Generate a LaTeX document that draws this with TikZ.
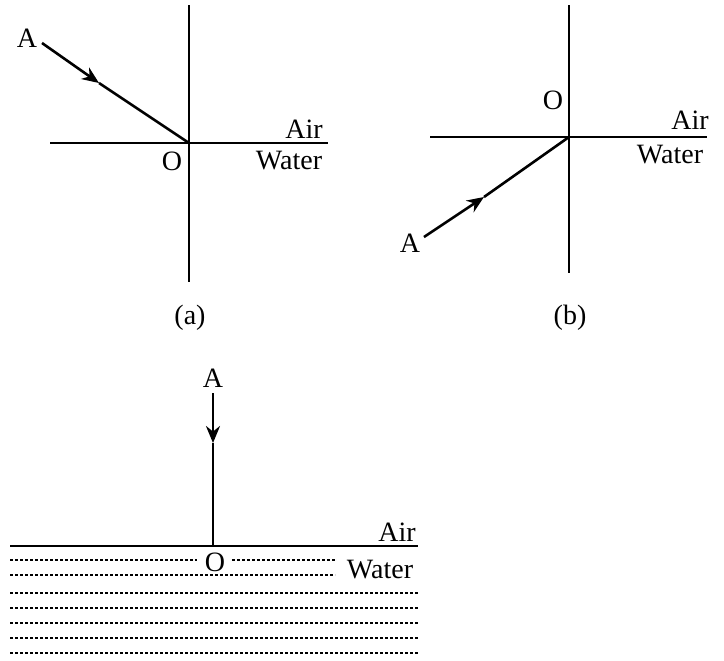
\documentclass[tikz,border=0pt]{standalone}
\usepackage{fontspec}
\setmainfont{Liberation Serif}
\usetikzlibrary{arrows.meta}

\begin{document}
\begin{tikzpicture}[>={Stealth[length=8.5pt,width=7pt]},x=0.5pt,y=-0.5pt,line width=1.3pt,
  every node/.style={font=\fontsize{14}{16}\selectfont,inner sep=1pt},
  waterline/.style={line width=0.8pt,dash pattern=on 1.6pt off 0.9pt}]
\useasboundingbox (0,0) rectangle (724,660);
% (a)
\coordinate (Oa) at (189,143);
\coordinate (ta) at (189,5);\coordinate (ba) at (189,282);
\coordinate (la) at (50,143);\coordinate (ra) at (328,143);
\coordinate (sa) at (42,43);\coordinate (ma) at (99,83);
\draw (ta)--(ba);\draw (la)--(ra);
\draw[->] (sa)--(ma);\draw (ma)--(Oa);
\node (Aa) at (27,38){A};
\node (oa) at (172,161){O};
\node (aira) at (304,129){Air};
\node (wa) at (289,161){Water};
\node (capa) at (190,318){(a)};
% (b)
\coordinate (Ob) at (569,137);
\coordinate (tb) at (569,5);\coordinate (bb) at (569,273);
\coordinate (lb) at (430,137);\coordinate (rb) at (707,137);
\coordinate (sb) at (424,237);\coordinate (mb) at (484,197);
\draw (tb)--(bb);\draw (lb)--(rb);
\draw[->] (sb)--(mb);\draw (mb)--(Ob);
\node (Ab) at (410,243){A};
\node (ob) at (553,100){O};
\node (airb) at (690,120){Air};
\node (wb) at (670,155){Water};
\node (capb) at (570,318){(b)};
% (c)
\coordinate (Oc) at (213,546);
\coordinate (lc) at (10,546);\coordinate (rc) at (418,546);
\coordinate (sc) at (213,393);\coordinate (mc) at (213,443);
\draw (lc)--(rc);
\draw[->] (sc)--(mc);\draw (mc)--(Oc);
\node (Ac) at (213,378){A};
\node (oc) at (215,562){O};
\node (airc) at (397,532){Air};
\node (wc) at (380,570){Water};
\draw[waterline] (10,560)--(197,560) (232,560)--(335,560) (10,575)--(335,575);
\foreach \y in {593,608,623,638,653}
  \draw[waterline] (10,\y)--(418,\y);
\end{tikzpicture}
\end{document}
